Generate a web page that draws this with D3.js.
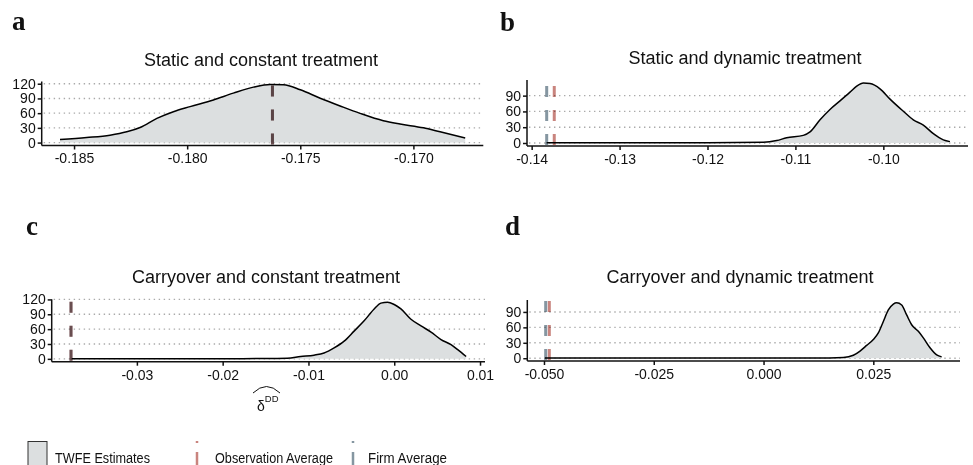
<!DOCTYPE html>
<html>
<head>
  <script src="https://cdnjs.cloudflare.com/ajax/libs/d3/7.8.5/d3.min.js"></script>
  <style>
    body { margin: 0; background: #fff; }
    text { font-family: "Liberation Sans", Arial, sans-serif; fill: #111; }
    .tick text { font-size: 14px; }
    .tick line, .domain { stroke: #111; stroke-width: 1.5; }
    .grid { stroke: #aaa; stroke-width: 1.4; stroke-dasharray: 1.4,3.6; }
    .panel-label { font-family: "Liberation Serif", "DejaVu Serif", serif; font-weight: bold; font-size: 27px; fill: #111; }
    .title { font-size: 18px; text-anchor: middle; }
    .legend text { font-size: 15.5px; }
    .avg { mix-blend-mode: multiply; }
  </style>
</head>
<body>
  <div id="chart"></div>
  <script>
    // panel titles and letters
    const panelKeys = ["a", "b", "c", "d"];
    const titles = [
      "Static and constant treatment",
      "Static and dynamic treatment",
      "Carryover and constant treatment",
      "Carryover and dynamic treatment"
    ];

    // density of TWFE estimates (x = estimate, y = density)
    const estA = [-0.18562, -0.18444, -0.18341, -0.18267, -0.18208, -0.18134, -0.18061, -0.17987, -0.17884, -0.17796, -0.17707, -0.17633, -0.17574, -0.17500, -0.17412, -0.17324, -0.17236, -0.17133, -0.17059, -0.16956, -0.16882, -0.16771];
    const densA = [6.1, 10.2, 15.0, 21.9, 30.8, 49.3, 63.0, 73.3, 87.0, 100.8, 113.1, 118.6, 117.9, 107.6, 90.5, 74.7, 59.6, 44.5, 37.7, 30.1, 21.9, 9.5];

    const estB = [-0.13830, -0.13000, -0.12000, -0.11365, -0.11213, -0.11100, -0.10910, -0.10834, -0.10720, -0.10607, -0.10493, -0.10379, -0.10303, -0.10227, -0.10152, -0.10038, -0.09924, -0.09773, -0.09659, -0.09545, -0.09431, -0.09318, -0.09242];
    const densB = [0.4, 0.4, 0.5, 1.3, 4.6, 9.9, 14.5, 21.0, 44.0, 63.7, 80.0, 96.6, 108.0, 114.0, 113.0, 103.0, 83.4, 60.4, 44.0, 34.0, 17.7, 5.9, 2.6];

    const estC = [-0.03760, -0.03000, -0.02000, -0.01500, -0.01247, -0.01091, -0.00935, -0.00818, -0.00701, -0.00584, -0.00468, -0.00351, -0.00234, -0.00156, -0.00078, 0.00000, 0.00078, 0.00195, 0.00312, 0.00429, 0.00545, 0.00662, 0.00740, 0.00838];
    const densC = [0.4, 0.4, 0.4, 0.6, 1.4, 4.8, 7.5, 11.7, 22.0, 35.7, 56.0, 76.8, 100.8, 112.5, 114.5, 109.7, 100.8, 80.0, 66.5, 54.0, 39.0, 28.8, 18.5, 4.8];

    const estD = [-0.04977, -0.02500, 0.00000, 0.01500, 0.01817, 0.02045, 0.02197, 0.02348, 0.02500, 0.02614, 0.02728, 0.02842, 0.02956, 0.03032, 0.03146, 0.03259, 0.03373, 0.03525, 0.03639, 0.03791, 0.03943, 0.04056];
    const densD = [0.4, 0.4, 0.4, 0.6, 1.3, 5.7, 14.0, 24.9, 36.4, 49.1, 71.5, 93.8, 105.3, 107.8, 103.4, 84.2, 65.1, 52.3, 39.6, 20.4, 6.4, 2.6];

    // averages per panel
    const obsAvg = [-0.17623, -0.13743, -0.03768, -0.04879];
    const firmAvg = [-0.17623, -0.13829, -0.03768, -0.04961];

    // axis limits and ticks
    const xLimits = [[-0.18643, -0.16691], [-0.14053, -0.09037], [-0.03993, 0.01058], [-0.0538, 0.04474]];
    const xTicks = [
      [-0.185, -0.180, -0.175, -0.170],
      [-0.14, -0.13, -0.12, -0.11, -0.10],
      [-0.03, -0.02, -0.01, 0.00, 0.01],
      [-0.050, -0.025, 0.000, 0.025]
    ];
    const xDigits = [3, 2, 2, 3];
    const yTicks = [[0, 30, 60, 90, 120], [0, 30, 60, 90], [0, 30, 60, 90, 120], [0, 30, 60, 90]];

    const legendLabels = ["TWFE Estimates", "Observation Average", "Firm Average"];

    const obsColor = "#c9847e";
    const firmColor = "#8596a1";
    const fillColor = "#dcdfe0";

    // pixel layout of each panel
    const layout = [
      {x0: 41.7, x1: 483.3, yTop: 81.5, yBot: 145.5, lx: 12, ly: 30, tx: 261, ty: 66},
      {x0: 527, x1: 968, yTop: 80, yBot: 146, lx: 500, ly: 31, tx: 745, ty: 64},
      {x0: 51.7, x1: 485, yTop: 299.3, yBot: 361.7, lx: 26, ly: 235, tx: 266, ty: 283},
      {x0: 527.3, x1: 960, yTop: 300, yBot: 361, lx: 505, ly: 235, tx: 740, ty: 283}
    ];

    const estimates = [estA, estB, estC, estD];
    const densities = [densA, densB, densC, densD];

    const svg = d3.select("#chart").append("svg")
      .attr("width", 973)
      .attr("height", 465);

    panelKeys.forEach((key, i) => {
      const L = layout[i];
      const data = estimates[i].map((e, j) => ({x: e, y: densities[i][j]}));
      const maxD = d3.max(densities[i]);

      const x = d3.scaleLinear().domain(xLimits[i]).range([L.x0, L.x1]);
      const y = d3.scaleLinear().domain([-0.05 * maxD, 1.05 * maxD]).range([L.yBot, L.yTop]);

      const g = svg.append("g");

      // panel letter and title
      g.append("text").attr("class", "panel-label").attr("x", L.lx).attr("y", L.ly).text(key);
      g.append("text").attr("class", "title").attr("x", L.tx).attr("y", L.ty).text(titles[i]);

      // dotted gridlines
      g.selectAll(".grid").data(yTicks[i]).join("line")
        .attr("class", "grid")
        .attr("x1", L.x0 + 2).attr("x2", L.x1)
        .attr("y1", d => y(d)).attr("y2", d => y(d));

      // density
      const area = d3.area()
        .x(d => x(d.x))
        .y0(y(0))
        .y1(d => y(d.y))
        .curve(d3.curveMonotoneX);
      const line = d3.line()
        .x(d => x(d.x))
        .y(d => y(d.y))
        .curve(d3.curveMonotoneX);

      g.append("path").datum(data).attr("d", area).attr("fill", fillColor);
      g.append("path").datum(data).attr("d", line)
        .attr("fill", "none").attr("stroke", "#000").attr("stroke-width", 1.5);

      // average lines
      [[obsAvg[i], obsColor], [firmAvg[i], firmColor]].forEach(([v, c]) => {
        g.append("line")
          .attr("class", "avg")
          .attr("x1", x(v)).attr("x2", x(v))
          .attr("y1", L.yBot - 1).attr("y2", L.yTop)
          .attr("stroke", c)
          .attr("stroke-width", 3)
          .attr("stroke-dasharray", "11,13");
      });

      // axes
      g.append("g")
        .attr("transform", `translate(0,${L.yBot})`)
        .call(d3.axisBottom(x).tickValues(xTicks[i]).tickSize(4).tickSizeOuter(0).tickPadding(4)
          .tickFormat(d => d.toFixed(xDigits[i])))
        .call(a => a.select(".domain").attr("d", `M${L.x0},0H${L.x1}`));

      g.append("g")
        .attr("transform", `translate(${L.x0},0)`)
        .call(d3.axisLeft(y).tickValues(yTicks[i]).tickSize(4).tickSizeOuter(0).tickPadding(2))
        .call(a => a.select(".domain").attr("d", `M0,${L.yTop}V${L.yBot}`));
    });

    // x axis label under panel c
    const lab = svg.append("g");
    lab.append("text").attr("x", 257).attr("y", 411).style("font-size", "14px").text("δ")
      .append("tspan").attr("dy", -9).style("font-size", "9.5px").text("DD");
    lab.append("path")
      .attr("d", "M253,393 Q266.5,380 280,393")
      .attr("fill", "none").attr("stroke", "#111").attr("stroke-width", 1);

    // legend
    const legend = svg.append("g").attr("class", "legend");
    legend.append("rect")
      .attr("x", 28).attr("y", 441.5).attr("width", 19).attr("height", 30)
      .attr("fill", fillColor).attr("stroke", "#333").attr("stroke-width", 1);
    legend.append("text").attr("x", 55).attr("y", 462.5)
      .attr("textLength", 95).attr("lengthAdjust", "spacingAndGlyphs").text(legendLabels[0]);

    [[197, obsColor, 215, legendLabels[1], 118], [353, firmColor, 368, legendLabels[2], 79]].forEach(([kx, c, tx, t, w]) => {
      legend.append("line")
        .attr("x1", kx).attr("x2", kx).attr("y1", 470).attr("y2", 441)
        .attr("stroke", c).attr("stroke-width", 2.5)
        .attr("stroke-dasharray", "18,9");
      legend.append("text").attr("x", tx).attr("y", 462.5)
        .attr("textLength", w).attr("lengthAdjust", "spacingAndGlyphs").text(t);
    });
  </script>
</body>
</html>
